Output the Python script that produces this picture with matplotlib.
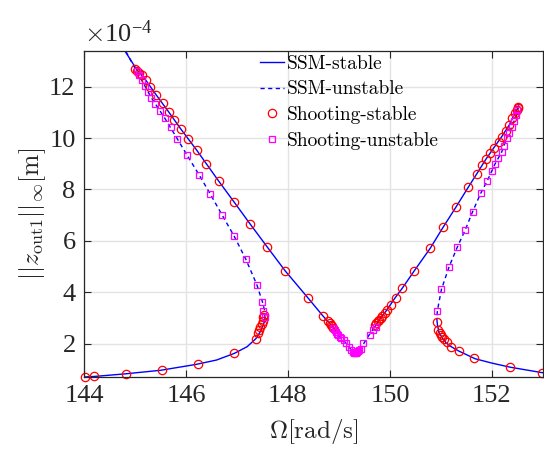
import matplotlib
matplotlib.use("Agg")
import matplotlib.pyplot as plt
from matplotlib.ticker import FuncFormatter, FixedLocator

plt.rcParams['mathtext.fontset'] = 'cm'

# ---- SSM curves (Omega [rad/s], amplitude [x1e-4 m]) ----
ssm_s1_x = [143.9, 144.2, 144.8, 145.5, 146.2, 146.6, 146.95, 147.2, 147.37, 147.47, 147.53, 147.55]
ssm_s1_y = [0.69, 0.72, 0.82, 0.96, 1.19, 1.36, 1.62, 1.88, 2.19, 2.50, 2.80, 3.00]

ssm_u1_x = [147.55, 147.54, 147.50, 147.39, 147.17, 146.94, 146.71, 146.48, 146.26, 146.02, 145.83,
            145.58, 145.32, 145.13, 144.95, 144.80, 144.70]
ssm_u1_y = [3.00, 3.30, 3.62, 4.29, 5.30, 6.20, 7.00, 7.81, 8.56, 9.34, 9.97,
            10.79, 11.57, 12.26, 12.90, 13.45, 13.80]

ssm_s2_x = [144.62, 144.80, 145.03, 145.21, 145.42, 145.66, 145.90, 146.21, 146.64, 146.94, 147.26,
            147.59, 147.95, 148.40, 148.68, 148.90]
ssm_s2_y = [13.90, 13.40, 12.68, 12.26, 11.67, 11.02, 10.35, 9.53, 8.33, 7.52, 6.65,
            5.77, 4.82, 3.76, 3.09, 2.60]

ssm_u2_x = [148.90, 148.99, 149.09, 149.19, 149.27, 149.33, 149.40, 149.47, 149.58, 149.70]
ssm_u2_y = [2.60, 2.33, 2.14, 1.88, 1.70, 1.64, 1.70, 1.95, 2.30, 2.65]

ssm_s3_x = [149.70, 149.79, 149.94, 150.09, 150.24, 150.48, 150.79, 151.04, 151.30, 151.54, 151.70,
            151.88, 152.04, 152.19, 152.34, 152.45, 152.51, 152.525]
ssm_s3_y = [2.65, 2.92, 3.31, 3.75, 4.15, 4.84, 5.71, 6.52, 7.33, 8.10, 8.60,
            9.17, 9.63, 10.05, 10.51, 10.96, 11.19, 11.25]

ssm_u3_x = [152.525, 152.48, 152.39, 152.29, 152.19, 152.06, 151.91, 151.78, 151.62, 151.48, 151.32,
            151.16, 151.01, 150.93, 150.92]
ssm_u3_y = [11.25, 10.89, 10.44, 10.01, 9.45, 8.99, 8.34, 7.85, 7.13, 6.44, 5.75,
            4.99, 4.11, 3.28, 2.95]

ssm_s4_x = [150.92, 150.93, 150.96, 151.03, 151.10, 151.20, 151.35, 151.67, 152.00, 152.36, 152.98, 153.1]
ssm_s4_y = [2.95, 2.75, 2.45, 2.20, 2.03, 1.88, 1.71, 1.41, 1.24, 1.08, 0.87, 0.85]

# ---- Shooting results ----
shoot_stable_x = [144.02, 144.20, 144.82, 145.53, 146.24, 146.94, 147.37, 147.41, 147.44, 147.46, 147.49,
                  147.51, 147.52, 147.53,
                  145.01, 145.03, 145.07, 145.13, 145.21, 145.30, 145.42, 145.54, 145.66, 145.77, 145.90,
                  146.04, 146.21, 146.39, 146.64, 146.94, 147.26, 147.59, 147.95, 148.40, 148.68, 148.78,
                  148.82, 148.85, 148.87, 148.89,
                  149.70, 149.73, 149.76, 149.79, 149.82, 149.85, 149.90, 149.94, 150.02, 150.11, 150.24,
                  150.48, 150.79, 151.04, 151.30, 151.54, 151.70, 151.80, 151.88, 151.96, 152.04, 152.13,
                  152.19, 152.27, 152.34, 152.40, 152.45, 152.49, 152.51, 152.52,
                  150.93, 150.95, 150.98, 151.00, 151.03, 151.06, 151.11, 151.19, 151.35, 151.65, 152.36,
                  152.98]
shoot_stable_y = [0.71, 0.72, 0.82, 0.96, 1.19, 1.62, 2.19, 2.40, 2.53, 2.63, 2.76,
                  2.89, 3.02, 3.11,
                  12.68, 12.62, 12.55, 12.45, 12.28, 11.99, 11.67, 11.35, 11.02, 10.70, 10.35,
                  9.96, 9.53, 9.01, 8.33, 7.50, 6.65, 5.77, 4.82, 3.76, 3.09, 2.89,
                  2.80, 2.73, 2.67, 2.62,
                  2.72, 2.79, 2.86, 2.92, 3.00, 3.07, 3.20, 3.31, 3.50, 3.76, 4.15,
                  4.84, 5.71, 6.52, 7.33, 8.10, 8.60, 8.95, 9.17, 9.40, 9.63, 9.86,
                  10.05, 10.27, 10.51, 10.77, 10.96, 11.09, 11.19, 11.22,
                  2.85, 2.53, 2.42, 2.33, 2.27, 2.17, 2.07, 1.88, 1.71, 1.45, 1.08,
                  0.87]

shoot_unstable_x = [147.54, 147.51, 147.50, 147.39, 147.17, 146.94, 146.71, 146.48, 146.26, 146.02, 145.83,
                    145.70, 145.58, 145.49, 145.40, 145.32, 145.26, 145.19, 145.13, 145.08, 145.04,
                    148.89, 148.92, 148.94, 148.97, 148.99, 149.02, 149.04, 149.09, 149.14, 149.19, 149.24,
                    149.27, 149.30, 149.32, 149.34, 149.36, 149.38, 149.40, 149.43, 149.47, 149.60, 149.67,
                    149.72,
                    152.50, 152.48, 152.44, 152.39, 152.34, 152.29, 152.23, 152.19, 152.12, 152.06, 152.00,
                    151.91, 151.78, 151.62, 151.48, 151.32, 151.16, 151.01, 150.93]
shoot_unstable_y = [3.05, 3.27, 3.62, 4.29, 5.30, 6.20, 7.00, 7.81, 8.56, 9.34, 9.97,
                    10.44, 10.79, 11.07, 11.33, 11.57, 11.80, 12.02, 12.26, 12.45, 12.61,
                    2.59, 2.52, 2.46, 2.39, 2.33, 2.26, 2.20, 2.14, 2.03, 1.88, 1.76,
                    1.68, 1.65, 1.64, 1.65, 1.67, 1.70, 1.74, 1.80, 2.01, 2.33, 2.53,
                    2.65,
                    11.10, 10.89, 10.67, 10.44, 10.20, 10.01, 9.69, 9.45, 9.23, 8.99, 8.72,
                    8.34, 7.85, 7.13, 6.44, 5.75, 4.99, 4.11, 3.28]

x_ticks = [144, 146, 148, 150, 152]
y_ticks = [2, 4, 6, 8, 10, 12]
scale = 1e-4

fig = plt.figure(figsize=(5.44, 4.49), dpi=100)
ax = fig.add_axes([0.1544, 0.1604, 0.8436, 0.7266])

def sc(v):
    return [a * scale for a in v]

blue = '#0000ff'
lw = 1.0
ax.plot(ssm_s1_x, sc(ssm_s1_y), '-', color=blue, lw=lw, label='SSM-stable')
ax.plot(ssm_u1_x, sc(ssm_u1_y), '--', color=blue, lw=lw, dashes=(3, 2.5), label='SSM-unstable')
for xx, yy in [(ssm_s2_x, ssm_s2_y), (ssm_s3_x, ssm_s3_y), (ssm_s4_x, ssm_s4_y)]:
    ax.plot(xx, sc(yy), '-', color=blue, lw=lw)
for xx, yy in [(ssm_u2_x, ssm_u2_y), (ssm_u3_x, ssm_u3_y)]:
    ax.plot(xx, sc(yy), '--', color=blue, lw=lw, dashes=(3, 2.5))

ax.plot(shoot_stable_x, sc(shoot_stable_y), 'o', ls='none', mfc='none', mec='#ff0000',
        ms=6, mew=0.9, label='Shooting-stable', clip_on=False)
ax.plot(shoot_unstable_x, sc(shoot_unstable_y), 's', ls='none', mfc='none', mec='#ff00ff',
        ms=4, mew=0.9, label='Shooting-unstable', clip_on=False)

ax.set_xlim(144, 153)
ax.set_ylim(0.70e-4, 13.40e-4)
ax.xaxis.set_major_locator(FixedLocator(x_ticks))
ax.yaxis.set_major_locator(FixedLocator([t * scale for t in y_ticks]))
ax.yaxis.set_major_formatter(FuncFormatter(lambda v, p: f"{v / scale:.0f}"))

ax.grid(True, color='#e3e3e3', lw=1.0)
ax.set_axisbelow(True)
for s in ax.spines.values():
    s.set_color('#262626')
    s.set_linewidth(0.9)
ax.tick_params(direction='in', length=5, width=0.8, top=True, right=True,
               colors='#262626', labelsize=19, pad=6)
for lab in ax.get_xticklabels() + ax.get_yticklabels():
    lab.set_fontfamily('Liberation Serif')

ax.text(0.0, 1.012, r'$\times\mathregular{10^{-4}}$', transform=ax.transAxes,
        fontsize=19, fontfamily='Liberation Serif', color='#262626', ha='left', va='bottom')

ax.set_xlabel(r'$\Omega[\mathrm{rad/s}]$', fontsize=18, labelpad=7, color='#262626')
ax.set_ylabel(r'$||z_{\mathrm{out1}}||_{\infty}[\mathrm{m}]$', fontsize=18.5, labelpad=1, color='#262626')

leg = ax.legend(loc='upper left', bbox_to_anchor=(0.35, 1.035), frameon=False,
                prop={'family': 'cmr10', 'size': 14}, handlelength=1.25, handletextpad=0.1,
                labelspacing=0.4, borderpad=0.3)

fig.savefig('out.png', dpi=100)
